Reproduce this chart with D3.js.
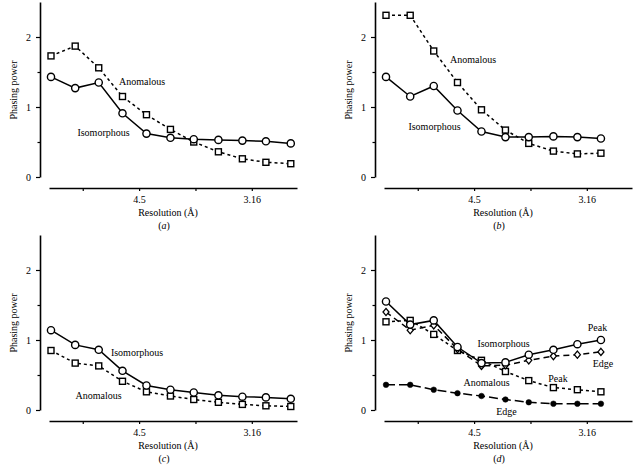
<!DOCTYPE html>
<html>
<head>
<meta charset="utf-8">
<script src="https://cdn.jsdelivr.net/npm/d3@7"></script>
<style>
  html, body { margin: 0; padding: 0; background: #fff; }
  svg { display: block; }
  text { font-family: "Liberation Serif", "Times New Roman", serif; font-size: 10px; fill: #000; }
</style>
</head>
<body>
<svg id="chart" width="640" height="466"></svg>
<script>
// Resolution shells (1/d^2, Å^-2)
const shells = [0.0097, 0.0206, 0.0312, 0.0419, 0.0527, 0.0635, 0.0740, 0.0851, 0.0959, 0.1065, 0.1177];
// X tick resolutions (Å); empty label = unlabelled tick
const xTickRes = [6.455, 4.5, 3.657, 3.16];
const xTickLabels = ["", "4.5", "", "3.16"];
const yTicks = [0, 0.5, 1, 1.5, 2];

// Panel (a)
const aIso = [1.43, 1.27, 1.35, 0.91, 0.62, 0.56, 0.54, 0.53, 0.52, 0.51, 0.48];
const aAno = [1.73, 1.87, 1.56, 1.15, 0.89, 0.68, 0.50, 0.36, 0.26, 0.21, 0.19];
// Panel (b)
const bIso = [1.43, 1.15, 1.30, 0.95, 0.65, 0.57, 0.57, 0.58, 0.57, 0.55];
const bAno = [2.31, 2.31, 1.80, 1.35, 0.96, 0.67, 0.48, 0.37, 0.33, 0.34];
// Panel (c)
const cIso = [1.14, 0.93, 0.86, 0.56, 0.35, 0.29, 0.25, 0.21, 0.19, 0.18, 0.16];
const cAno = [0.85, 0.67, 0.63, 0.41, 0.26, 0.20, 0.15, 0.11, 0.08, 0.06, 0.05];
// Panel (d)
const dIsoPeak = [1.55, 1.22, 1.28, 0.90, 0.67, 0.68, 0.79, 0.86, 0.94, 1.00];
const dIsoEdge = [1.40, 1.14, 1.21, 0.87, 0.63, 0.64, 0.71, 0.77, 0.79, 0.83];
const dAnoPeak = [1.26, 1.28, 1.08, 0.85, 0.71, 0.55, 0.42, 0.32, 0.29, 0.26];
const dAnoEdge = [0.36, 0.36, 0.29, 0.24, 0.20, 0.15, 0.11, 0.09, 0.09, 0.09];

const panels = [
  { id: "a", dx: 0, dy: 0, series: [
      { v: aAno, dash: "3,3", marker: "square" },
      { v: aIso, dash: null, marker: "circle" } ],
    labels: [ { t: "Anomalous", x: 142, y: 81 }, { t: "Isomorphous", x: 103.5, y: 132 } ] },
  { id: "b", dx: 335, dy: 0, series: [
      { v: bAno, dash: "3,3", marker: "square" },
      { v: bIso, dash: null, marker: "circle" } ],
    labels: [ { t: "Anomalous", x: 138, y: 59 }, { t: "Isomorphous", x: 99.5, y: 126.5 } ] },
  { id: "c", dx: 0, dy: 233, series: [
      { v: cAno, dash: "3,3", marker: "square" },
      { v: cIso, dash: null, marker: "circle" } ],
    labels: [ { t: "Isomorphous", x: 137, y: 119 }, { t: "Anomalous", x: 98.5, y: 162 } ] },
  { id: "d", dx: 335, dy: 233, series: [
      { v: dAnoEdge, dash: "9,4", marker: "dot" },
      { v: dAnoPeak, dash: "3,3", marker: "square" },
      { v: dIsoEdge, dash: "6,4", marker: "diamond" },
      { v: dIsoPeak, dash: null, marker: "circle" } ],
    labels: [ { t: "Isomorphous", x: 168.5, y: 110.5 }, { t: "Peak", x: 262.5, y: 94 },
              { t: "Edge", x: 268, y: 130.5 }, { t: "Peak", x: 223, y: 145.5 },
              { t: "Anomalous", x: 151.5, y: 149.5 }, { t: "Edge", x: 171.5, y: 178 } ] }
];

const svg = d3.select("#chart");
const x = d3.scaleLinear().domain([0.0088, 0.1205]).range([49, 297]);
const y = d3.scaleLinear().domain([0, 2.5]).range([177, 2]);
const xTickVals = xTickRes.map(d => 1 / (d * d));

panels.forEach(p => {
  const g = svg.append("g").attr("transform", `translate(${p.dx},${p.dy})`);

  // Y axis
  const yAx = g.append("g").attr("transform", "translate(40,0)")
    .call(d3.axisLeft(y).tickValues(yTicks).tickSize(4).tickSizeOuter(0).tickPadding(5)
      .tickFormat(d => Number.isInteger(d) ? d : ""));
  yAx.select(".domain").attr("stroke", "#000").attr("stroke-width", 1.6);
  yAx.selectAll(".tick line").attr("stroke", "#000").attr("stroke-width", 1.2)
    .attr("x2", d => Number.isInteger(d) ? -4 : -2.5);
  yAx.selectAll(".tick text").style("font-family", '"Liberation Serif", serif').style("font-size", "10px");

  // X axis
  const xAx = g.append("g").attr("transform", "translate(0,188)")
    .call(d3.axisBottom(x).tickValues(xTickVals).tickSize(3).tickSizeOuter(0).tickPadding(5)
      .tickFormat((d, i) => xTickLabels[i]));
  xAx.select(".domain").attr("stroke", "#000").attr("stroke-width", 1.6);
  xAx.selectAll(".tick line").attr("stroke", "#000").attr("stroke-width", 1.2);
  xAx.selectAll(".tick text").style("font-family", '"Liberation Serif", serif').style("font-size", "10px");

  // Axis titles
  g.append("text").attr("transform", "translate(16.5,90) rotate(-90)")
    .attr("text-anchor", "middle").text("Phasing power");
  g.append("text").attr("x", 168).attr("y", 216).attr("text-anchor", "middle").text("Resolution (Å)");
  const lab = g.append("text").attr("x", 164).attr("y", 229).attr("text-anchor", "middle");
  lab.append("tspan").text("(");
  lab.append("tspan").style("font-style", "italic").text(p.id);
  lab.append("tspan").text(")");

  const line = d3.line().x((d, i) => x(shells[i])).y(d => y(d));

  p.series.forEach(s => {
    g.append("path").datum(s.v).attr("d", line).attr("fill", "none")
      .attr("stroke", "#000").attr("stroke-width", 1.5)
      .attr("stroke-dasharray", s.dash);
  });

  p.series.forEach(s => {
    const m = g.append("g");
    const pts = s.v.map((v, i) => ({ cx: x(shells[i]), cy: y(v) }));
    if (s.marker === "circle") {
      m.selectAll("circle").data(pts).join("circle")
        .attr("cx", d => d.cx).attr("cy", d => d.cy).attr("r", 3.6)
        .attr("fill", "#fff").attr("stroke", "#000").attr("stroke-width", 1.4);
    } else if (s.marker === "square") {
      m.selectAll("rect").data(pts).join("rect")
        .attr("x", d => d.cx - 3).attr("y", d => d.cy - 3).attr("width", 6).attr("height", 6)
        .attr("fill", "#fff").attr("stroke", "#000").attr("stroke-width", 1.4);
    } else if (s.marker === "diamond") {
      m.selectAll("path").data(pts).join("path")
        .attr("d", d => `M${d.cx},${d.cy - 3.6}L${d.cx + 3},${d.cy}L${d.cx},${d.cy + 3.6}L${d.cx - 3},${d.cy}Z`)
        .attr("fill", "#fff").attr("stroke", "#000").attr("stroke-width", 1.3);
    } else if (s.marker === "dot") {
      m.selectAll("circle").data(pts).join("circle")
        .attr("cx", d => d.cx).attr("cy", d => d.cy).attr("r", 2.8)
        .attr("fill", "#000").attr("stroke", "#000").attr("stroke-width", 0.5);
    }
  });

  p.labels.forEach(l => {
    g.append("text").attr("x", l.x).attr("y", l.y + 3.5).attr("text-anchor", "middle").text(l.t);
  });
});
</script>
</body>
</html>
